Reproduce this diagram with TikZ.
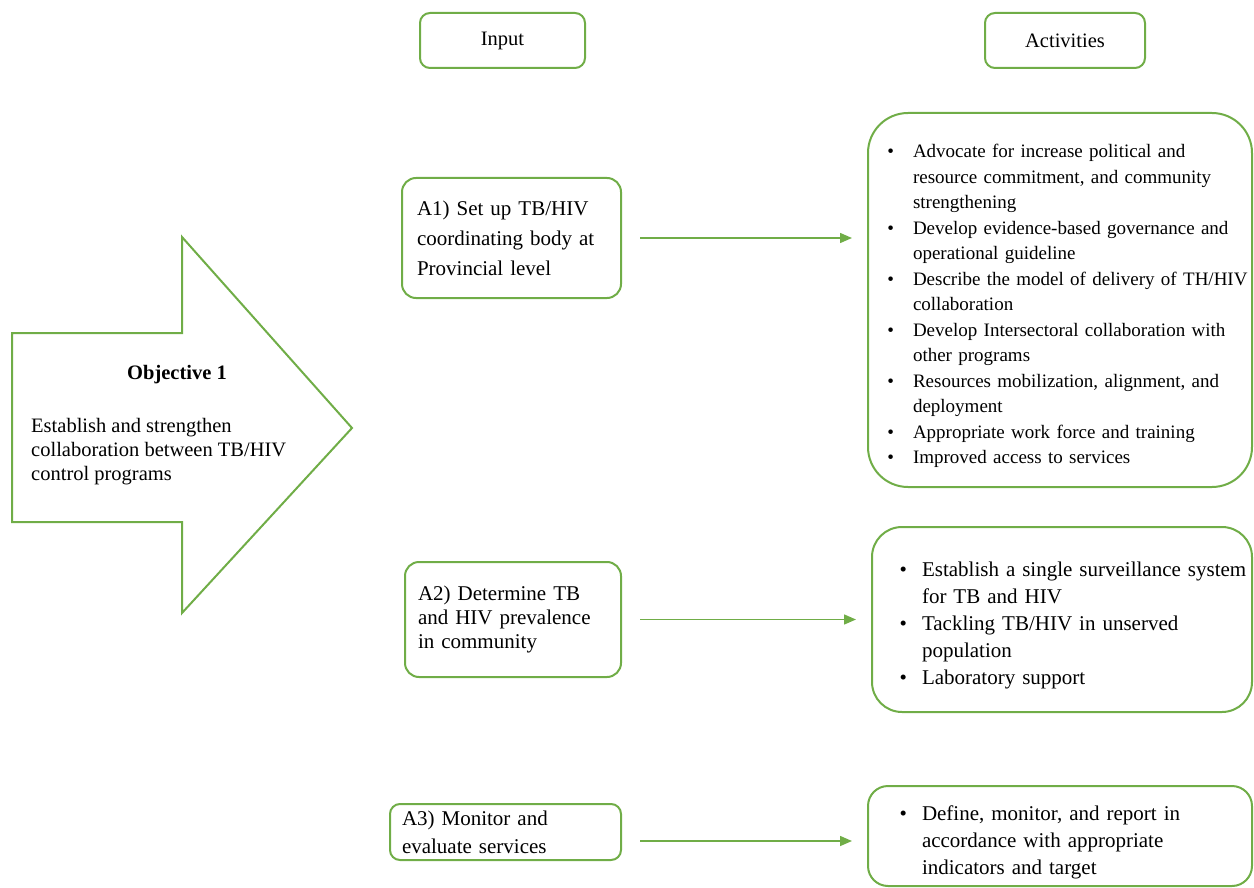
\documentclass[tikz,border=0pt]{standalone}
\usepackage{fontspec}
\setmainfont{Liberation Serif}
\usetikzlibrary{arrows.meta}
\definecolor{leafgreen}{RGB}{112,173,71}
\newenvironment{actlist}[2]{\begin{list}{\textbullet}{%
  \setlength{\leftmargin}{#1}\setlength{\labelwidth}{12pt}%
  \setlength{\labelsep}{#2}\setlength{\itemsep}{0pt}%
  \setlength{\parsep}{0pt}\setlength{\topsep}{0pt}%
  \setlength{\partopsep}{0pt}}\raggedright}{\end{list}}

\begin{document}
\begin{tikzpicture}[x=1pt,y=-1pt]
  \tikzstyle{every node}=[font=\fontsize{20.5}{25.5}\selectfont];
  \tikzstyle{headbox}=[draw=leafgreen,line width=2pt,rounded corners=10pt,minimum height=55pt];
  \tikzstyle{inbox}=[draw=leafgreen,line width=2pt,rounded corners=14pt,align=left];
  \tikzstyle{actbox}=[draw=leafgreen,line width=2pt,inner xsep=4pt,align=left,font=\fontsize{21}{27}\selectfont];
  \tikzstyle{link}=[draw=leafgreen,line width=1.5pt,-{Triangle[length=12pt,width=10pt]},shorten <=18pt,shorten >=15pt];
  \useasboundingbox (0,0) rectangle (1254,888);

  % column heads
  \node[headbox,minimum width=165pt] (input) at (502.5,40.5) {Input};
  \node[headbox,minimum width=160pt] (activities) at (1065,40.5) {Activities};

  % objective arrow
  \path[draw=leafgreen,line width=2pt] (12,333) -- (182,333) -- (182,237) -- (352,428)
    -- (182,613) -- (182,522) -- (12,522) -- cycle;
  \node (objtitle) at (177,375) {\bfseries Objective 1};
  \node[anchor=west,align=left,inner sep=0pt,font=\fontsize{20.5}{24}\selectfont] (objtext) at (31,452)
    {Establish and strengthen\\collaboration between TB/HIV\\control programs};

  % inputs
  \node[inbox,minimum width=219pt,minimum height=120pt,inner xsep=15pt,text width=189pt,
    font=\fontsize{21}{30}\selectfont] (a1) at (511.5,238)
    {A1) Set up TB/HIV\\coordinating body at\\Provincial level};
  \node[inbox,minimum width=216pt,minimum height=115pt,inner xsep=13pt,text width=190pt,
    font=\fontsize{21}{24}\selectfont] (a2) at (513,619.5)
    {A2) Determine TB\\and HIV prevalence\\in community};
  \node[inbox,minimum width=231pt,minimum height=56pt,inner xsep=12pt,text width=207pt,
    rounded corners=10pt,font=\fontsize{21}{28}\selectfont] (a3) at (505.5,832)
    {A3) Monitor and\\evaluate services};

  % activities
  \node[actbox,rounded corners=40pt,minimum width=384pt,minimum height=374pt,text width=376pt,
    font=\fontsize{19}{25.5}\selectfont] (act1) at (1060,300)
    {\begin{actlist}{41pt}{19pt}
      \item Advocate for increase political and\\resource commitment, and community\\strengthening
      \item Develop evidence-based governance and\\operational guideline
      \item Describe the model of delivery of TH/HIV\\collaboration
      \item Develop Intersectoral collaboration with\\other programs
      \item Resources mobilization, alignment, and\\deployment
      \item Appropriate work force and training
      \item Improved access to services
    \end{actlist}};
  \node[actbox,rounded corners=30pt,minimum width=380pt,minimum height=185pt,text width=372pt] (act2) at (1062,619.5)
    {\begin{actlist}{46pt}{15pt}
      \item Establish a single surveillance system\\for TB and HIV
      \item Tackling TB/HIV in unserved\\population
      \item Laboratory support
    \end{actlist}};
  \node[actbox,rounded corners=20pt,minimum width=384pt,minimum height=100pt,text width=376pt] (act3) at (1060,836)
    {\begin{actlist}{50pt}{15pt}
      \item Define, monitor, and report in\\accordance with appropriate\\indicators and target
    \end{actlist}};

  % links
  \path[link] (a1.east) -- (a1.east -| act1.west);
  \path[link] (a2.east) -- (a2.east -| act2.west);
  \path[link] ([yshift=-9pt]a3.east) -- ([yshift=-9pt]a3.east -| act3.west);
\end{tikzpicture}
\end{document}
